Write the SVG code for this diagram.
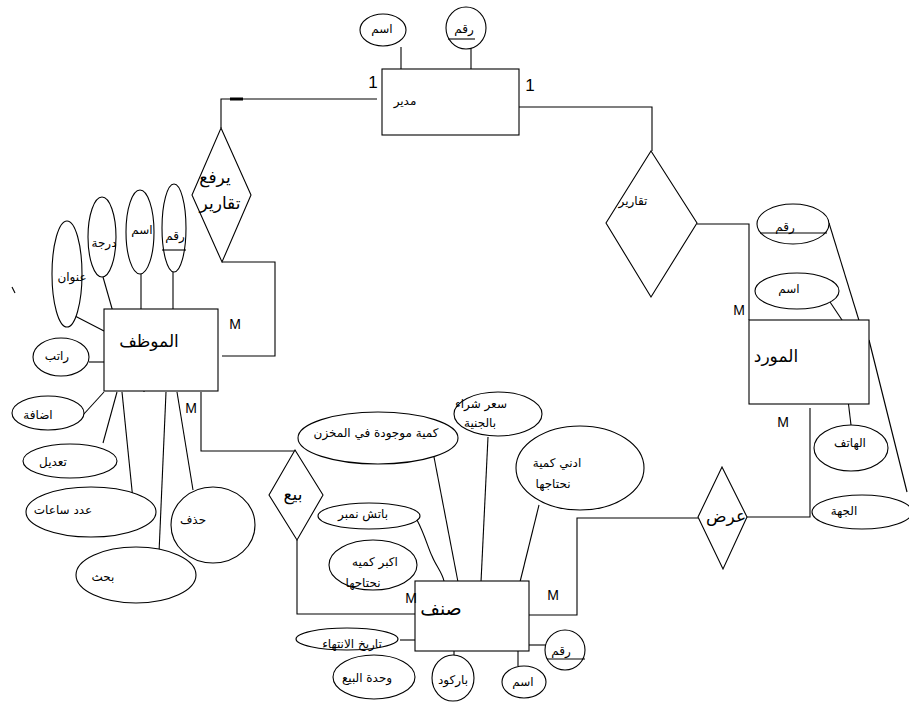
<svg xmlns="http://www.w3.org/2000/svg" width="909" height="702" viewBox="0 0 909 702">
<style>
.s{fill:none;stroke:#000;stroke-width:1.1}
.e{fill:#fff;stroke:#000;stroke-width:1.1}
.t{font-family:"DejaVu Sans","Noto Sans",sans-serif;font-size:12px;fill:#000;text-anchor:middle;dominant-baseline:middle}
.b{font-size:17px}
.m{font-family:"Liberation Sans",Arial,sans-serif;font-size:14px;fill:#000;text-anchor:middle;dominant-baseline:middle}
.o{font-size:17px}
</style>
<rect width="909" height="702" fill="#fff"/>
<g id="connectors" class="s">
<polyline points="377,99 221,99 221,128"/>
<line x1="230" y1="99" x2="243" y2="99" stroke-width="3"/>
<polyline points="222,262 275,262 275,356 222,356"/>
<polyline points="519,107 652,107 652,151"/>
<polyline points="697,224 749,224 749,320"/>
<polyline points="201,392 201,451 296,451"/>
<polyline points="297,540 297,614 415,614"/>
<polyline points="529,615 577,615 577,518 698,518"/>
<polyline points="747,517 810,517 810,408"/>
<line x1="401" y1="47" x2="401" y2="69"/>
<line x1="471" y1="47" x2="471" y2="69"/>
<line x1="173" y1="272" x2="173" y2="309"/>
<line x1="141" y1="274" x2="141" y2="309"/>
<line x1="103" y1="277" x2="113" y2="312"/>
<line x1="75" y1="316" x2="104" y2="331"/>
<line x1="89" y1="362" x2="104" y2="362"/>
<line x1="83" y1="415" x2="104" y2="392"/>
<line x1="103" y1="443" x2="117" y2="392"/>
<line x1="133" y1="500" x2="122" y2="392"/>
<line x1="159" y1="553" x2="166" y2="392"/>
<line x1="193" y1="490" x2="177" y2="392"/>
<line x1="144" y1="392" x2="144" y2="387"/>
<line x1="12" y1="287" x2="15" y2="293"/>
<line x1="829" y1="223" x2="861" y2="327"/>
<line x1="830" y1="302" x2="844" y2="323"/>
<line x1="869" y1="340" x2="907" y2="492"/>
<line x1="848" y1="400" x2="851" y2="425"/>
<line x1="434" y1="457" x2="458" y2="582"/>
<line x1="488" y1="437" x2="481" y2="582"/>
<line x1="539" y1="505" x2="520" y2="582"/>
<path d="M417,520 C425,535 428,548 432,556 C436,566 442,572 444,581"/>
<line x1="400" y1="640" x2="418" y2="640"/>
<line x1="454" y1="651" x2="454" y2="662"/>
<line x1="518" y1="651" x2="518" y2="666"/>
<line x1="529" y1="645" x2="550" y2="645"/>
</g>
<g id="manager">
<rect class="e" x="382" y="69" width="137" height="66"/>
<text class="t" x="405" y="101">مدير</text>
<text class="m o" x="373" y="84">1</text>
<text class="m o" x="530" y="87">1</text>
</g>
<g id="manager-name">
<ellipse class="e" cx="383" cy="30" rx="23" ry="16"/>
<text class="t" x="382" y="29">اسم</text>
</g>
<g id="manager-id">
<ellipse class="e" cx="466" cy="28" rx="20" ry="21"/>
<text class="t" x="464" y="29">رقم</text>
<line class="s" x1="448" y1="39" x2="475" y2="39"/>
</g>
<g id="rel-report">
<polygon class="e" points="221,128 251,195 222,262 192,195"/>
<text class="t b" x="215" y="178">يرفع</text>
<text class="t b" x="220" y="204">تقارير</text>
</g>
<g id="rel-reports">
<polygon class="e" points="651,151 697,223 651,297 606,223"/>
<text class="t" x="633" y="201">تقارير</text>
</g>
<g id="employee">
<rect class="e" x="104" y="309" width="114" height="82"/>
<text class="t b" x="149" y="342">الموظف</text>
<text class="m" x="235" y="325">M</text>
<text class="m" x="191" y="409">M</text>
</g>
<g id="emp-id">
<ellipse class="e" cx="174" cy="228" rx="12" ry="44"/>
<text class="t" x="175" y="236">رقم</text>
<line class="s" x1="162" y1="250" x2="186" y2="250"/>
</g>
<g id="emp-name"><ellipse class="e" cx="140" cy="232" rx="14" ry="42"/><text class="t" x="142" y="230">اسم</text></g>
<g id="emp-grade"><ellipse class="e" cx="102" cy="237" rx="14" ry="40"/><text class="t" x="104" y="243">درجة</text></g>
<g id="emp-address"><ellipse class="e" cx="67" cy="274" rx="15" ry="53"/><text class="t" x="72" y="277">عنوان</text></g>
<g id="emp-salary"><ellipse class="e" cx="61" cy="357" rx="28" ry="19"/><text class="t" x="57" y="356">راتب</text></g>
<g id="emp-add"><ellipse class="e" cx="48" cy="413" rx="36" ry="17"/><text class="t" x="38" y="415">اضافة</text></g>
<g id="emp-edit"><ellipse class="e" cx="70" cy="461" rx="47" ry="17"/><text class="t" x="53" y="462">تعديل</text></g>
<g id="emp-hours"><ellipse class="e" cx="91" cy="512" rx="65" ry="25"/><text class="t" x="63" y="510">عدد ساعات</text></g>
<g id="emp-search"><ellipse class="e" cx="136" cy="575" rx="60" ry="28"/><text class="t" x="103" y="577">بحث</text></g>
<g id="emp-delete"><ellipse class="e" cx="213" cy="525" rx="42" ry="38"/><text class="t" x="193" y="520">حذف</text></g>
<g id="rel-sell">
<polygon class="e" points="295,450 323,495 297,540 269,495"/>
<text class="t b" x="293" y="495">بيع</text>
</g>
<g id="supplier">
<rect class="e" x="749" y="320" width="120" height="84"/>
<text class="t b" x="776" y="357">المورد</text>
<text class="m" x="739" y="311">M</text>
<text class="m" x="783" y="423">M</text>
</g>
<g id="sup-id">
<ellipse class="e" cx="793" cy="224" rx="36" ry="20"/>
<text class="t" x="785" y="227">رقم</text>
<line class="s" x1="760" y1="233" x2="827" y2="233"/>
</g>
<g id="sup-name"><ellipse class="e" cx="797" cy="291" rx="42" ry="18"/><text class="t" x="789" y="289">اسم</text></g>
<g id="sup-phone"><ellipse class="e" cx="851" cy="448" rx="37" ry="23"/><text class="t" x="850" y="443">الهاتف</text></g>
<g id="sup-side"><ellipse class="e" cx="862" cy="512" rx="50" ry="17"/><text class="t" x="844" y="511">الجهة</text></g>
<g id="rel-offer">
<polygon class="e" points="722,467 747,517 723,569 698,517"/>
<text class="t b" x="726" y="517">عرض</text>
</g>
<g id="item">
<rect class="e" x="415" y="581" width="114" height="70"/>
<text class="t" x="441" y="609" style="font-size:19px">صنف</text>
<text class="m" x="411" y="599">M</text>
<text class="m" x="553" y="596">M</text>
</g>
<g id="item-stock"><ellipse class="e" cx="378" cy="438" rx="80" ry="26"/><text class="t" x="376" y="433">كمية موجودة في المخزن</text></g>
<g id="item-price"><ellipse class="e" cx="498" cy="414" rx="44" ry="22"/><text class="t" x="481" y="404">سعر شراء</text><text class="t" x="480" y="423">بالجنية</text></g>
<g id="item-min"><ellipse class="e" cx="580" cy="468" rx="64" ry="42"/><text class="t" x="557" y="463">ادني كمية</text><text class="t" x="553" y="484">نحتاجها</text></g>
<g id="item-batch"><ellipse class="e" cx="369" cy="516" rx="51" ry="13"/><text class="t" x="363" y="514">باتش نمبر</text></g>
<g id="item-max"><ellipse class="e" cx="373" cy="565" rx="44" ry="25"/><text class="t" x="375" y="562">اكبر كميه</text><text class="t" x="363" y="583">نحتاجها</text></g>
<g id="item-expiry"><ellipse class="e" cx="347" cy="639" rx="51" ry="11"/><text class="t" x="352" y="644">تاريخ الانتهاء</text></g>
<g id="item-unit"><ellipse class="e" cx="374" cy="677" rx="41" ry="22"/><text class="t" x="367" y="678">وحدة البيع</text></g>
<g id="item-barcode"><ellipse class="e" cx="453" cy="678" rx="21" ry="23"/><text class="t" x="453" y="680">باركود</text></g>
<g id="item-name"><ellipse class="e" cx="524" cy="682" rx="22" ry="16"/><text class="t" x="523" y="682">اسم</text></g>
<g id="item-id">
<ellipse class="e" cx="565" cy="650" rx="20" ry="20"/>
<text class="t" x="561" y="651">رقم</text>
<line class="s" x1="547" y1="659" x2="585" y2="659"/>
</g>
</svg>
